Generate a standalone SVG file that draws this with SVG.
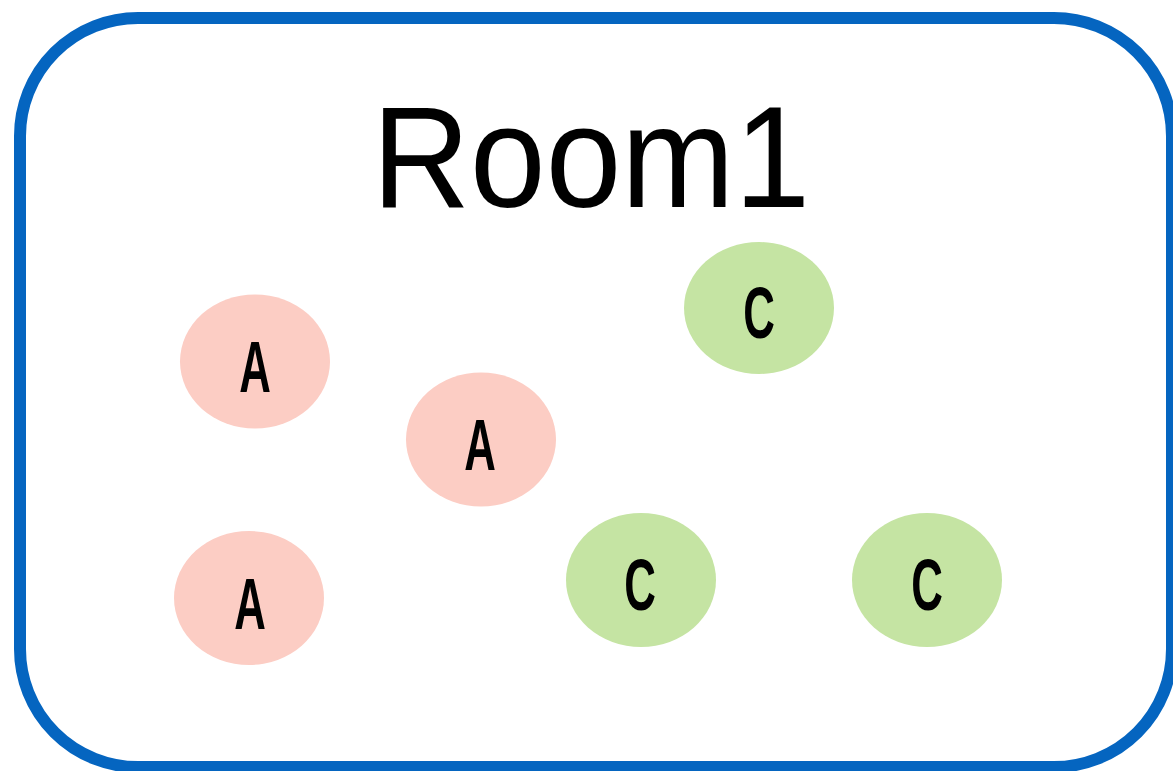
<svg xmlns="http://www.w3.org/2000/svg" width="1173" height="771" viewBox="0 0 1173 771">
<style>
.room{fill:#ffffff;stroke:#0565c0;stroke-width:12}
.title{font-family:"Liberation Sans",Arial,sans-serif;font-size:144px;fill:#000}
.a{fill:#fccdc4}
.c{fill:#c5e4a3}
.lbl{font-family:"Liberation Sans",Arial,sans-serif;font-weight:bold;font-size:73px;fill:#000;text-anchor:middle}
</style>
<rect width="1173" height="771" fill="#ffffff"/>
<g id="room1">
<rect class="room" x="20" y="18" width="1152" height="749" rx="118" ry="118"/>
<text class="title" x="372" y="207" textLength="438" lengthAdjust="spacingAndGlyphs">Room1</text>
</g>
<g id="connectors"></g>
<g id="a1"><ellipse class="a" cx="255" cy="361.5" rx="75" ry="67"/><text class="lbl" transform="translate(255,392) scale(0.6,1)">A</text></g>
<g id="a2"><ellipse class="a" cx="481" cy="439.5" rx="75" ry="67"/><text class="lbl" transform="translate(480,470) scale(0.6,1)">A</text></g>
<g id="a3"><ellipse class="a" cx="249" cy="598" rx="75" ry="67"/><text class="lbl" transform="translate(250,629) scale(0.6,1)">A</text></g>
<g id="c1"><ellipse class="c" cx="759" cy="308" rx="75" ry="66"/><text class="lbl" transform="translate(759,338) scale(0.6,1)">C</text></g>
<g id="c2"><ellipse class="c" cx="641" cy="580" rx="75" ry="67"/><text class="lbl" transform="translate(640,610) scale(0.6,1)">C</text></g>
<g id="c3"><ellipse class="c" cx="927" cy="580" rx="75" ry="67"/><text class="lbl" transform="translate(927,610) scale(0.6,1)">C</text></g>
</svg>
